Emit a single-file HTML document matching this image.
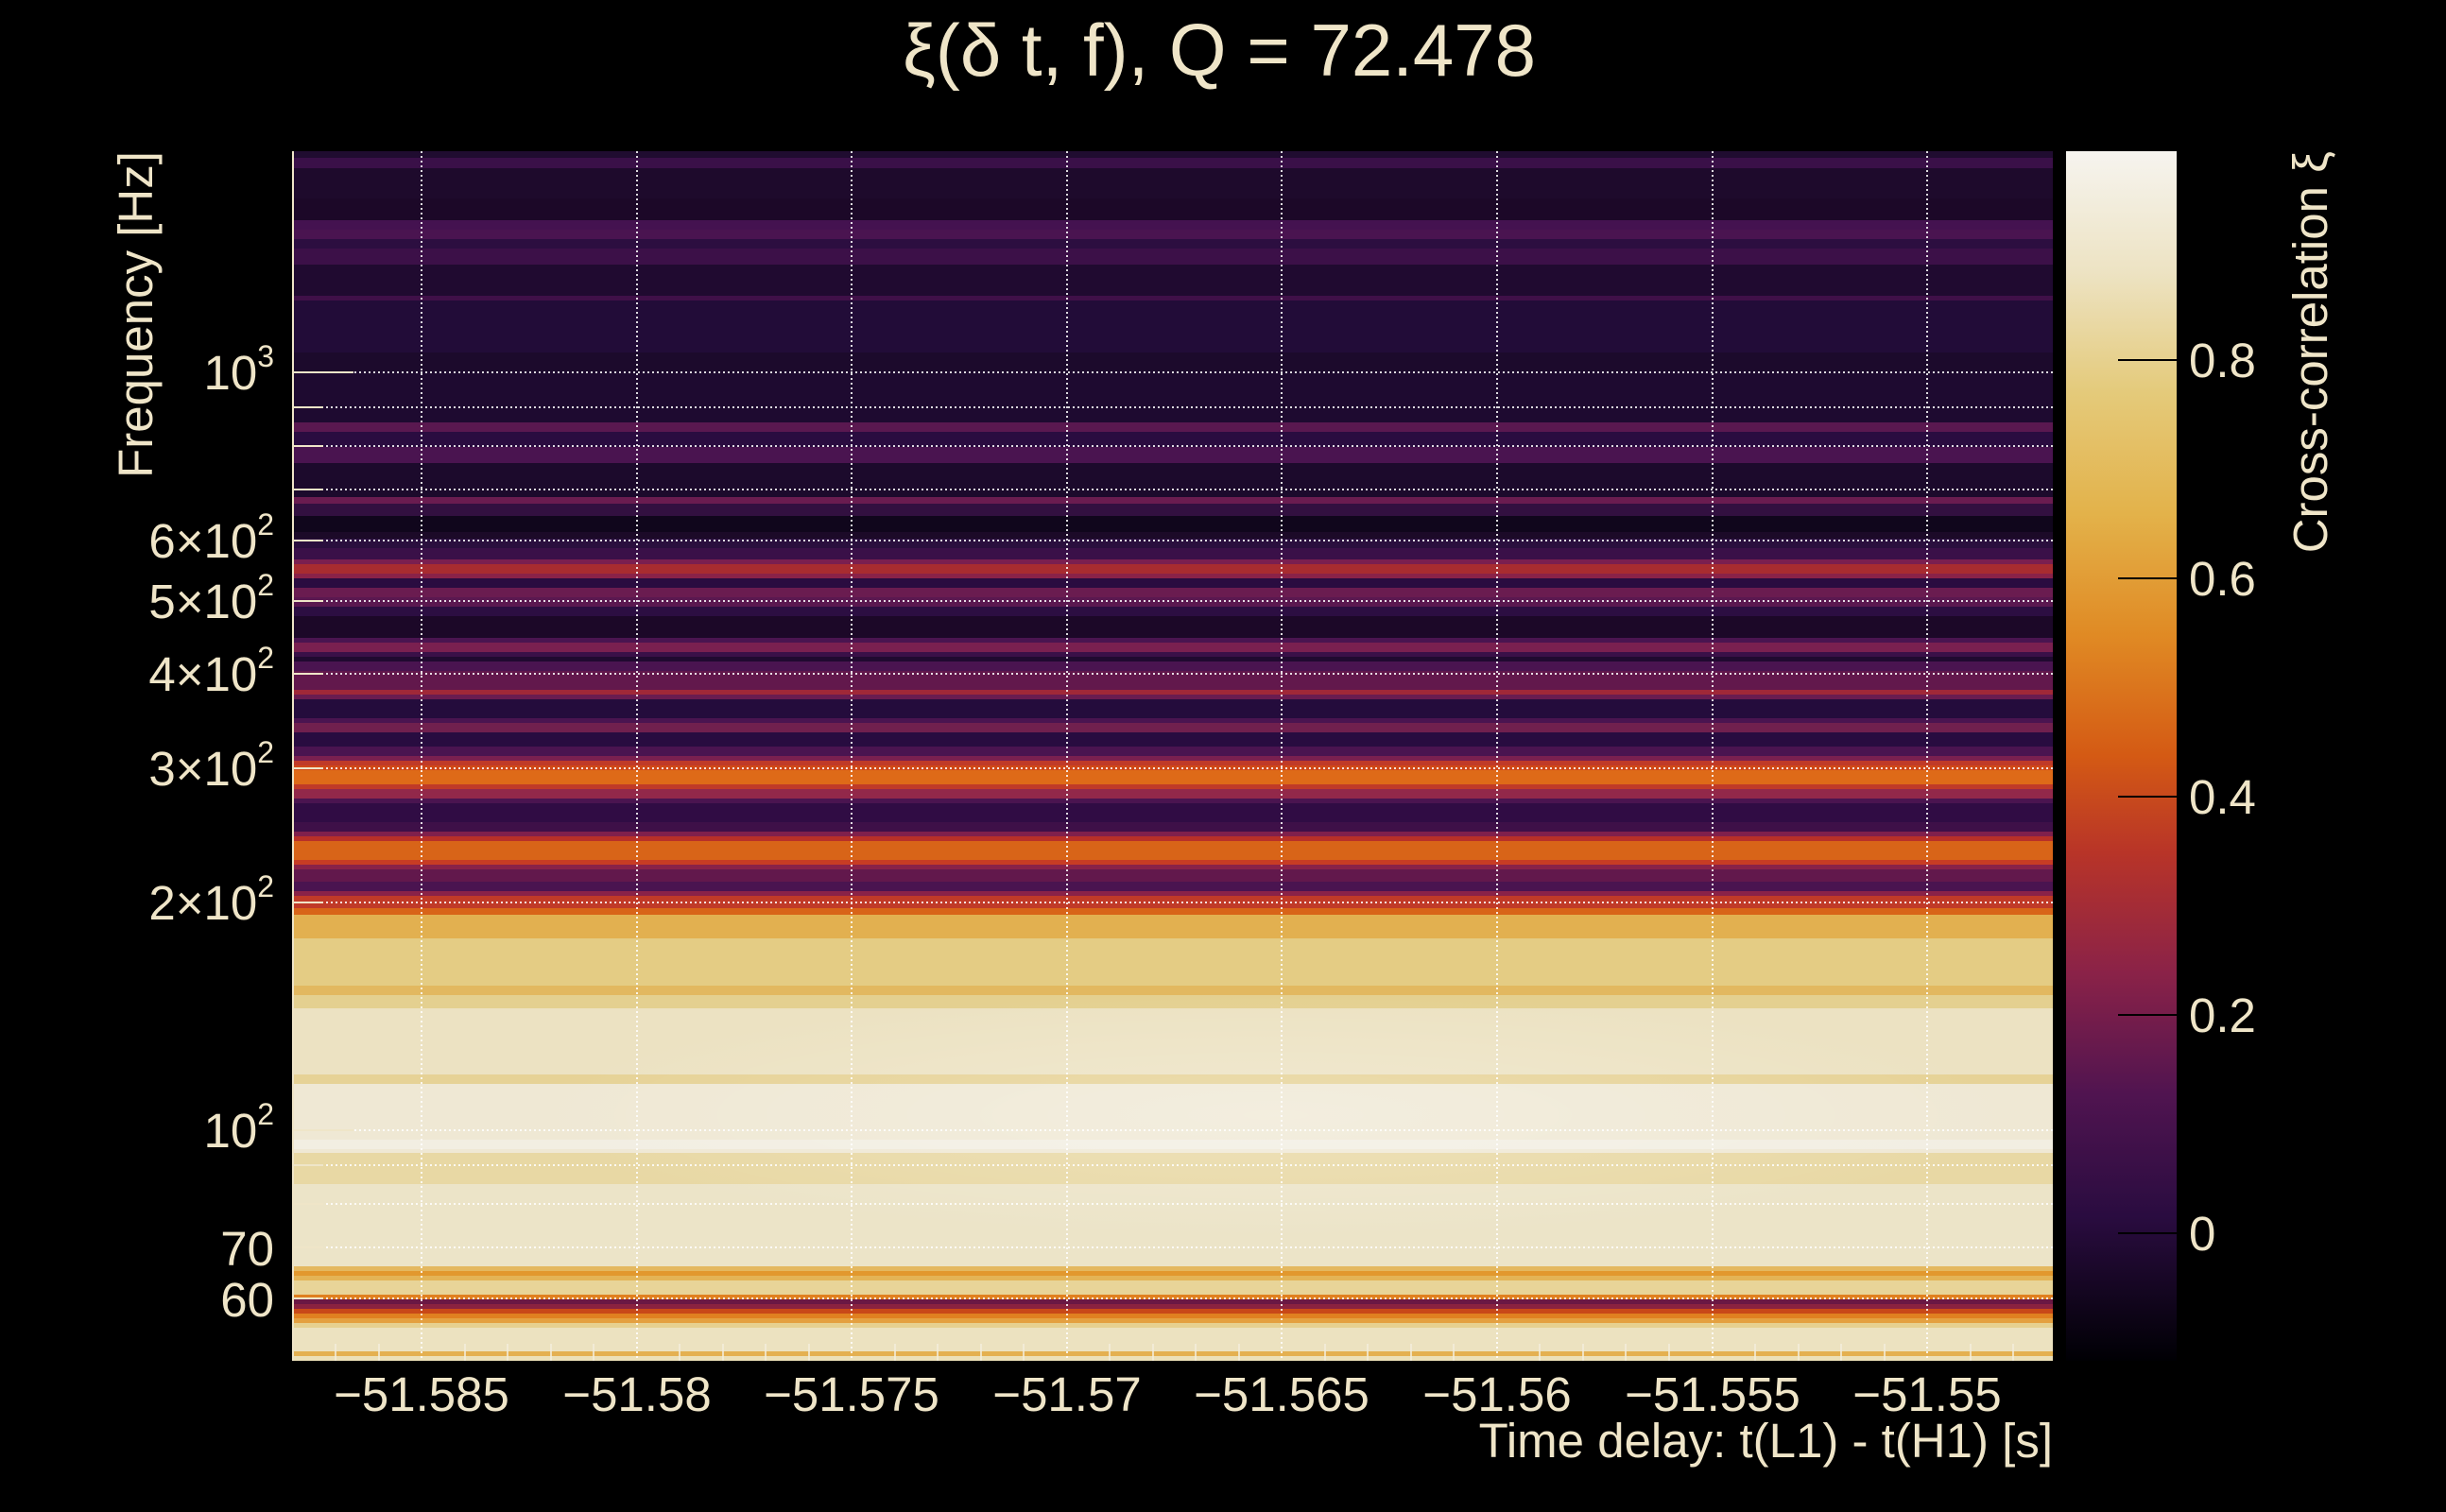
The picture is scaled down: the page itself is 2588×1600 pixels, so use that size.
<!DOCTYPE html>
<html><head><meta charset="utf-8"><style>
html,body{margin:0;padding:0;background:#000;}
svg{display:block;}
text{font-family:"Liberation Sans",sans-serif;fill:#efe5c8;}
</style></head><body>
<svg width="2588" height="1600" viewBox="0 0 2588 1600" xmlns="http://www.w3.org/2000/svg">
<defs>
<linearGradient id="cb" x1="0" y1="0" x2="0" y2="1">
<stop offset="0" stop-color="#f6f4ef"/>
<stop offset="0.1" stop-color="#ede3c3"/>
<stop offset="0.2" stop-color="#e4ca7a"/>
<stop offset="0.3" stop-color="#e3b24a"/>
<stop offset="0.4" stop-color="#e08a24"/>
<stop offset="0.5" stop-color="#d45a14"/>
<stop offset="0.58" stop-color="#b83428"/>
<stop offset="0.68" stop-color="#8a2248"/>
<stop offset="0.78" stop-color="#501450"/>
<stop offset="0.88" stop-color="#2a0c40"/>
<stop offset="1" stop-color="#000004"/>
</linearGradient>
<radialGradient id="glow" cx="0.5" cy="0.5" r="0.5">
<stop offset="0" stop-color="#ffffff" stop-opacity="0.25"/>
<stop offset="1" stop-color="#ffffff" stop-opacity="0"/>
</radialGradient>
</defs>
<rect width="2588" height="1600" fill="#000"/>
<text x="1290" y="80" font-size="78" text-anchor="middle">ξ(δ t, f), Q = 72.478</text>
<g shape-rendering="crispEdges">
<rect x="310" y="160" width="1862" height="1280" fill="#200c32"/>
<rect x="310" y="160" width="1862" height="7" fill="#200c30"/>
<rect x="310" y="167" width="1862" height="11" fill="#3a1048"/>
<rect x="310" y="178" width="1862" height="32" fill="#1e0a2c"/>
<rect x="310" y="210" width="1862" height="23" fill="#1c0828"/>
<rect x="310" y="233" width="1862" height="10" fill="#441250"/>
<rect x="310" y="243" width="1862" height="10" fill="#4a1450"/>
<rect x="310" y="253" width="1862" height="10" fill="#2c0e40"/>
<rect x="310" y="263" width="1862" height="17" fill="#3c1048"/>
<rect x="310" y="280" width="1862" height="33" fill="#200a30"/>
<rect x="310" y="313" width="1862" height="5" fill="#401048"/>
<rect x="310" y="318" width="1862" height="55" fill="#220c38"/>
<rect x="310" y="373" width="1862" height="20" fill="#1c0a2c"/>
<rect x="310" y="393" width="1862" height="54" fill="#1e0a30"/>
<rect x="310" y="447" width="1862" height="10" fill="#5a1850"/>
<rect x="310" y="457" width="1862" height="16" fill="#2a0c40"/>
<rect x="310" y="473" width="1862" height="17" fill="#4a1450"/>
<rect x="310" y="490" width="1862" height="36" fill="#1c0a2c"/>
<rect x="310" y="526" width="1862" height="7" fill="#6a1c50"/>
<rect x="310" y="533" width="1862" height="13" fill="#321040"/>
<rect x="310" y="546" width="1862" height="17" fill="#10061c"/>
<rect x="310" y="563" width="1862" height="7" fill="#1c0a28"/>
<rect x="310" y="570" width="1862" height="10" fill="#2a0f3e"/>
<rect x="310" y="580" width="1862" height="12" fill="#3a1048"/>
<rect x="310" y="592" width="1862" height="5" fill="#7a1f50"/>
<rect x="310" y="597" width="1862" height="10" fill="#a82c30"/>
<rect x="310" y="607" width="1862" height="5" fill="#8a2248"/>
<rect x="310" y="612" width="1862" height="10" fill="#2a0c40"/>
<rect x="310" y="622" width="1862" height="10" fill="#6a1c50"/>
<rect x="310" y="632" width="1862" height="10" fill="#5a1850"/>
<rect x="310" y="642" width="1862" height="10" fill="#2c0e42"/>
<rect x="310" y="652" width="1862" height="23" fill="#1c0828"/>
<rect x="310" y="675" width="1862" height="5" fill="#4a1450"/>
<rect x="310" y="680" width="1862" height="10" fill="#7a2050"/>
<rect x="310" y="690" width="1862" height="5" fill="#3a1048"/>
<rect x="310" y="695" width="1862" height="5" fill="#200a30"/>
<rect x="310" y="700" width="1862" height="10" fill="#4a1450"/>
<rect x="310" y="710" width="1862" height="20" fill="#62184c"/>
<rect x="310" y="730" width="1862" height="5" fill="#a02838"/>
<rect x="310" y="735" width="1862" height="5" fill="#6a1c50"/>
<rect x="310" y="740" width="1862" height="20" fill="#240c3c"/>
<rect x="310" y="760" width="1862" height="5" fill="#4a1450"/>
<rect x="310" y="765" width="1862" height="10" fill="#70204e"/>
<rect x="310" y="775" width="1862" height="15" fill="#280c40"/>
<rect x="310" y="790" width="1862" height="10" fill="#4a1450"/>
<rect x="310" y="800" width="1862" height="5" fill="#7a2050"/>
<rect x="310" y="805" width="1862" height="5" fill="#c03a28"/>
<rect x="310" y="810" width="1862" height="5" fill="#d04818"/>
<rect x="310" y="815" width="1862" height="15" fill="#de6a18"/>
<rect x="310" y="830" width="1862" height="5" fill="#c03a28"/>
<rect x="310" y="835" width="1862" height="10" fill="#92284a"/>
<rect x="310" y="845" width="1862" height="5" fill="#4a1450"/>
<rect x="310" y="850" width="1862" height="20" fill="#300c44"/>
<rect x="310" y="870" width="1862" height="10" fill="#3e1048"/>
<rect x="310" y="880" width="1862" height="5" fill="#80204c"/>
<rect x="310" y="885" width="1862" height="5" fill="#b83028"/>
<rect x="310" y="890" width="1862" height="20" fill="#d86418"/>
<rect x="310" y="910" width="1862" height="5" fill="#c83c24"/>
<rect x="310" y="915" width="1862" height="5" fill="#8a2248"/>
<rect x="310" y="920" width="1862" height="13" fill="#62184c"/>
<rect x="310" y="933" width="1862" height="10" fill="#4a1450"/>
<rect x="310" y="943" width="1862" height="5" fill="#8a2248"/>
<rect x="310" y="948" width="1862" height="13" fill="#c03a28"/>
<rect x="310" y="961" width="1862" height="7" fill="#d86418"/>
<rect x="310" y="968" width="1862" height="25" fill="#e2b050"/>
<rect x="310" y="993" width="1862" height="50" fill="#e4cc84"/>
<rect x="310" y="1043" width="1862" height="10" fill="#e2b860"/>
<rect x="310" y="1053" width="1862" height="14" fill="#e4d090"/>
<rect x="310" y="1067" width="1862" height="70" fill="#ece2c2"/>
<rect x="310" y="1137" width="1862" height="10" fill="#e6d296"/>
<rect x="310" y="1147" width="1862" height="73" fill="#efe8d4"/>
<rect x="310" y="1206" width="1862" height="10" fill="#f2eee2"/>
<rect x="310" y="1220" width="1862" height="33" fill="#e8d8a4"/>
<rect x="310" y="1253" width="1862" height="87" fill="#ece4c8"/>
<rect x="310" y="1340" width="1862" height="5" fill="#e4b860"/>
<rect x="310" y="1345" width="1862" height="5" fill="#e2982e"/>
<rect x="310" y="1350" width="1862" height="5" fill="#e4b456"/>
<rect x="310" y="1355" width="1862" height="15" fill="#e8d498"/>
<rect x="310" y="1370" width="1862" height="5" fill="#e08020"/>
<rect x="310" y="1375" width="1862" height="5" fill="#6a1844"/>
<rect x="310" y="1380" width="1862" height="5" fill="#8a2240"/>
<rect x="310" y="1385" width="1862" height="5" fill="#c84818"/>
<rect x="310" y="1390" width="1862" height="5" fill="#e08020"/>
<rect x="310" y="1395" width="1862" height="5" fill="#e4a040"/>
<rect x="310" y="1400" width="1862" height="5" fill="#e6d090"/>
<rect x="310" y="1405" width="1862" height="25" fill="#ece2c0"/>
<rect x="310" y="1430" width="1862" height="5" fill="#e4b050"/>
<rect x="310" y="1435" width="1862" height="5" fill="#ece0b8"/>
</g>
<ellipse cx="1350" cy="1180" rx="800" ry="130" fill="url(#glow)"/>
<g stroke="#fff" stroke-width="2" stroke-dasharray="2 3" opacity="0.85">
<line x1="310" x2="2172" y1="394" y2="394"/><line x1="310" x2="2172" y1="431" y2="431"/>
<line x1="310" x2="2172" y1="472" y2="472"/><line x1="310" x2="2172" y1="518" y2="518"/>
<line x1="310" x2="2172" y1="572" y2="572"/><line x1="310" x2="2172" y1="636" y2="636"/>
<line x1="310" x2="2172" y1="713" y2="713"/><line x1="310" x2="2172" y1="813" y2="813"/>
<line x1="310" x2="2172" y1="955" y2="955"/><line x1="310" x2="2172" y1="1196" y2="1196"/>
<line x1="310" x2="2172" y1="1233" y2="1233"/><line x1="310" x2="2172" y1="1274" y2="1274"/>
<line x1="310" x2="2172" y1="1320" y2="1320"/><line x1="310" x2="2172" y1="1374" y2="1374"/>
<line y1="160" y2="1440" x1="446" x2="446"/><line y1="160" y2="1440" x1="674" x2="674"/>
<line y1="160" y2="1440" x1="901" x2="901"/><line y1="160" y2="1440" x1="1129" x2="1129"/>
<line y1="160" y2="1440" x1="1356" x2="1356"/><line y1="160" y2="1440" x1="1584" x2="1584"/>
<line y1="160" y2="1440" x1="1812" x2="1812"/><line y1="160" y2="1440" x1="2039" x2="2039"/>
</g>
<g stroke="#efe5c8" stroke-width="2">
<line x1="310" y1="160" x2="310" y2="1440"/>
<line x1="310" x2="374" y1="394" y2="394"/><line x1="310" x2="374" y1="1196" y2="1196"/>
<line x1="310" x2="342" y1="431" y2="431"/><line x1="310" x2="342" y1="472" y2="472"/>
<line x1="310" x2="342" y1="518" y2="518"/><line x1="310" x2="342" y1="572" y2="572"/>
<line x1="310" x2="342" y1="636" y2="636"/><line x1="310" x2="342" y1="713" y2="713"/>
<line x1="310" x2="342" y1="813" y2="813"/><line x1="310" x2="342" y1="955" y2="955"/>
<line x1="310" x2="342" y1="1233" y2="1233"/><line x1="310" x2="342" y1="1274" y2="1274"/>
<line x1="310" x2="342" y1="1320" y2="1320"/><line x1="310" x2="342" y1="1374" y2="1374"/>
</g>
<g stroke="#f4eedc" stroke-width="2" opacity="0.8">
<line x1="355" x2="355" y1="1422" y2="1440"/><line x1="401" x2="401" y1="1422" y2="1440"/>
<line x1="492" x2="492" y1="1422" y2="1440"/><line x1="537" x2="537" y1="1422" y2="1440"/>
<line x1="583" x2="583" y1="1422" y2="1440"/><line x1="628" x2="628" y1="1422" y2="1440"/>
<line x1="719" x2="719" y1="1422" y2="1440"/><line x1="765" x2="765" y1="1422" y2="1440"/>
<line x1="810" x2="810" y1="1422" y2="1440"/><line x1="856" x2="856" y1="1422" y2="1440"/>
<line x1="947" x2="947" y1="1422" y2="1440"/><line x1="992" x2="992" y1="1422" y2="1440"/>
<line x1="1038" x2="1038" y1="1422" y2="1440"/><line x1="1083" x2="1083" y1="1422" y2="1440"/>
<line x1="1174" x2="1174" y1="1422" y2="1440"/><line x1="1220" x2="1220" y1="1422" y2="1440"/>
<line x1="1265" x2="1265" y1="1422" y2="1440"/><line x1="1311" x2="1311" y1="1422" y2="1440"/>
<line x1="1402" x2="1402" y1="1422" y2="1440"/><line x1="1447" x2="1447" y1="1422" y2="1440"/>
<line x1="1493" x2="1493" y1="1422" y2="1440"/><line x1="1538" x2="1538" y1="1422" y2="1440"/>
<line x1="1629" x2="1629" y1="1422" y2="1440"/><line x1="1675" x2="1675" y1="1422" y2="1440"/>
<line x1="1720" x2="1720" y1="1422" y2="1440"/><line x1="1766" x2="1766" y1="1422" y2="1440"/>
<line x1="1857" x2="1857" y1="1422" y2="1440"/><line x1="1903" x2="1903" y1="1422" y2="1440"/>
<line x1="1948" x2="1948" y1="1422" y2="1440"/><line x1="1994" x2="1994" y1="1422" y2="1440"/>
<line x1="2085" x2="2085" y1="1422" y2="1440"/><line x1="2130" x2="2130" y1="1422" y2="1440"/>
</g>
<g font-size="51" text-anchor="end">
<text x="290" y="412">10<tspan font-size="32" dy="-24">3</tspan></text>
<text x="290" y="590">6×10<tspan font-size="32" dy="-24">2</tspan></text>
<text x="290" y="654">5×10<tspan font-size="32" dy="-24">2</tspan></text>
<text x="290" y="731">4×10<tspan font-size="32" dy="-24">2</tspan></text>
<text x="290" y="831">3×10<tspan font-size="32" dy="-24">2</tspan></text>
<text x="290" y="973">2×10<tspan font-size="32" dy="-24">2</tspan></text>
<text x="290" y="1214">10<tspan font-size="32" dy="-24">2</tspan></text>
<text x="290" y="1339">70</text>
<text x="290" y="1393">60</text>
</g>
<g font-size="51" text-anchor="middle">
<text x="446" y="1493">−51.585</text><text x="674" y="1493">−51.58</text>
<text x="901" y="1493">−51.575</text><text x="1129" y="1493">−51.57</text>
<text x="1356" y="1493">−51.565</text><text x="1584" y="1493">−51.56</text>
<text x="1812" y="1493">−51.555</text><text x="2039" y="1493">−51.55</text>
</g>
<text x="2172" y="1542" font-size="51" text-anchor="end">Time delay: t(L1) - t(H1) [s]</text>
<text transform="translate(161,333) rotate(-90)" font-size="51" text-anchor="middle">Frequency [Hz]</text>
<rect x="2186" y="160" width="117" height="1280" fill="url(#cb)"/>
<g stroke="#000" stroke-width="2">
<line x1="2241" x2="2303" y1="381" y2="381"/><line x1="2241" x2="2303" y1="612" y2="612"/>
<line x1="2241" x2="2303" y1="843" y2="843"/><line x1="2241" x2="2303" y1="1074" y2="1074"/>
<line x1="2241" x2="2303" y1="1305" y2="1305"/>
</g>
<g font-size="51">
<text x="2316" y="399">0.8</text><text x="2316" y="630">0.6</text>
<text x="2316" y="861">0.4</text><text x="2316" y="1092">0.2</text>
<text x="2316" y="1323">0</text>
</g>
<text transform="translate(2462,160) rotate(-90)" font-size="51" text-anchor="end">Cross-correlation ξ</text>
</svg>
</body></html>
